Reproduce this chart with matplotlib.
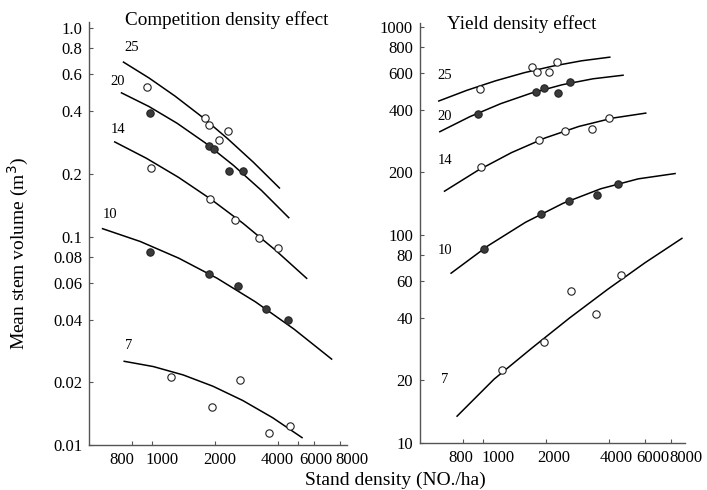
import numpy as np
import matplotlib
matplotlib.use("Agg")
import matplotlib.pyplot as plt
from matplotlib.ticker import FixedLocator, FixedFormatter, NullLocator, NullFormatter

plt.rcParams['font.family'] = ['Liberation Serif', 'DejaVu Serif']

# ---- Competition density effect (left) ----
# fitted curves
cd_curve_x = {
    25: [726, 968, 1291, 1722, 2296, 3062, 4107],
    20: [710, 968, 1321, 1803, 2460, 3357, 4550],
    14: [659, 940, 1340, 1912, 2729, 3890, 5546],
    10: [576, 880, 1344, 2053, 3136, 4791, 7306],
    7:  [731, 1016, 1412, 1962, 2728, 3792, 5275],
}
cd_curve_y = {
    25: [0.690, 0.577, 0.472, 0.378, 0.296, 0.2273, 0.170],
    20: [0.491, 0.4208, 0.3496, 0.2814, 0.2195, 0.1661, 0.1225],
    14: [0.2856, 0.2377, 0.1925, 0.1514, 0.1159, 0.0864, 0.0627],
    10: [0.1094, 0.0947, 0.0788, 0.0631, 0.0486, 0.0360, 0.0257],
    7:  [0.02525, 0.02379, 0.02169, 0.01914, 0.01634, 0.01351, 0.0108],
}
# observed points
cd_pts_x = {
    25: [952, 1803, 1885, 2316, 2104],
    20: [980, 1885, 1991, 2349, 2740],
    14: [991, 1899, 2502, 3269, 4031],
    10: [980, 1885, 2594, 3508, 4471],
    7:  [1236, 1948, 2642, 3640, 4585],
}
cd_pts_y = {
    25: [0.521, 0.369, 0.344, 0.320, 0.290],
    20: [0.392, 0.2733, 0.2617, 0.206, 0.206],
    14: [0.2138, 0.1522, 0.1199, 0.0983, 0.0879],
    10: [0.0841, 0.0662, 0.0578, 0.0447, 0.0396],
    7:  [0.0213, 0.0153, 0.0205, 0.0114, 0.0124],
}
cd_label_pos = {25: (804, 0.803), 20: (689, 0.552), 14: (689, 0.326),
                10: (631, 0.128), 7: (778, 0.030)}

# ---- Yield density effect (right) ----
yd_curve_x = {
    25: [605, 832, 1143, 1570, 2158, 2965, 4081],
    20: [612, 860, 1209, 1701, 2391, 3362, 4727],
    14: [645, 937, 1362, 1979, 2877, 4182, 6077],
    10: [694, 1052, 1594, 2415, 3660, 5546, 8408],
    7:  [742, 1126, 1708, 2592, 3934, 5970, 9057],
}
yd_curve_y = {
    25: [439.5, 496.2, 551.2, 603, 649, 688, 717],
    20: [312.6, 370.6, 427.9, 481.4, 527.8, 563.7, 587],
    14: [161.7, 204.1, 248.8, 292.9, 332.7, 364.9, 386],
    10: [65.2, 88.8, 115.2, 142.1, 166.8, 186.2, 197.7],
    7:  [13.38, 20.3, 28.6, 39.9, 54.6, 73.5, 96.8],
}
yd_pts_x = {
    25: [960, 1702, 1810, 2068, 2244],
    20: [936, 1785, 1956, 2270, 2620],
    14: [978, 1851, 2460, 3306, 4004],
    10: [1007, 1881, 2580, 3494, 4438],
    7:  [1234, 1956, 2629, 3467, 4559],
}
yd_pts_y = {
    25: [503, 643, 605, 611, 682],
    20: [381, 488, 507, 481.5, 543],
    14: [212.8, 285, 315, 324, 365],
    10: [86, 126, 146, 155.8, 176],
    7:  [22.4, 30.5, 53.9, 41.7, 63.9],
}
yd_label_pos = {25: (652, 587), 20: (652, 370), 14: (652, 228),
                10: (652, 83.9), 7: (652, 20.1)}

filled = [20, 10]

x_ticks = [800, 1000, 2000, 4000, 6000, 8000]
cd_xlab_shift = [-10, 10, 5, 0, 1.5, 12]   # label nudges in pixels
yd_xlab_shift = [-3, 15, 8, 7, 7, 15]
cd_yticks = [0.01, 0.02, 0.04, 0.06, 0.08, 0.1, 0.2, 0.4, 0.6, 0.8, 1.0]
cd_ylabels = ['0.01', '0.02', '0.04', '0.06', '0.08', '0.1', '0.2', '0.4', '0.6', '0.8', '1.0']
yd_yticks = [10, 20, 40, 60, 80, 100, 200, 400, 600, 800, 1000]
yd_ylabels = [str(v) for v in yd_yticks]

fig = plt.figure(figsize=(7.07, 4.90), dpi=100)
ax1 = fig.add_axes([0.1259, 0.0918, 0.3649, 0.8633])
ax2 = fig.add_axes([0.5940, 0.0959, 0.3748, 0.8571])


def draw(ax, cx, cy, px, py, lab, yt, ytl, shifts):
    for k in cx:
        ax.plot(cx[k], cy[k], color='black', lw=1.1, solid_capstyle='butt')
        fc = '#3a3a3a' if k in filled else 'white'
        ax.plot(px[k], py[k], 'o', ms=5.3, mfc=fc, mec='#222222', mew=0.8,
                linestyle='none', zorder=3)
        ax.text(lab[k][0], lab[k][1], str(k), fontsize=10.5, ha='center', va='center')
    ax.set_xscale('log')
    ax.set_yscale('log')
    ax.xaxis.set_major_locator(FixedLocator(x_ticks))
    ax.xaxis.set_major_formatter(NullFormatter())
    ax.xaxis.set_minor_locator(NullLocator())
    ax.xaxis.set_minor_formatter(NullFormatter())
    ax.yaxis.set_major_locator(FixedLocator(yt))
    ax.yaxis.set_major_formatter(FixedFormatter(ytl))
    ax.yaxis.set_minor_locator(NullLocator())
    for s in ['top', 'right']:
        ax.spines[s].set_visible(False)
    for s in ['left', 'bottom']:
        ax.spines[s].set_color('#555555')
        ax.spines[s].set_linewidth(1.0)
    ax.tick_params(which='both', direction='in', length=3, width=0.8,
                   color='#555555', labelsize=12, pad=5)
    # x tick labels, nudged apart like the original print
    for v, dx in zip(x_ticks, shifts):
        ax.annotate(str(v), xy=(v, 0), xycoords=ax.get_xaxis_transform(),
                    xytext=(dx * 0.72, -10.5), textcoords='offset points',
                    ha='center', va='center', fontsize=12)


draw(ax1, cd_curve_x, cd_curve_y, cd_pts_x, cd_pts_y, cd_label_pos,
     cd_yticks, cd_ylabels, cd_xlab_shift)
ax1.xaxis.set_minor_locator(FixedLocator([5000]))
ax1.set_xlim(500, 8600)
ax1.set_ylim(0.01, 1.07)

draw(ax2, yd_curve_x, yd_curve_y, yd_pts_x, yd_pts_y, yd_label_pos,
     yd_yticks, yd_ylabels, yd_xlab_shift)
ax2.set_xlim(495, 9300)
ax2.set_ylim(10, 1045)

fig.text(227 / 707, 1 - 20 / 490, 'Competition density effect', fontsize=13.8,
         ha='center', va='center')
fig.text(522 / 707, 1 - 24 / 490, 'Yield density effect', fontsize=13.8,
         ha='center', va='center')
fig.text(395 / 707, 1 - 480 / 490, 'Stand density (NO./ha)', fontsize=14,
         ha='center', va='center')
fig.text(18 / 707, 1 - 253 / 490, 'Mean stem volume (m$^3$)', fontsize=14,
         ha='center', va='center', rotation=90)

fig.savefig('out.png', dpi=100)
